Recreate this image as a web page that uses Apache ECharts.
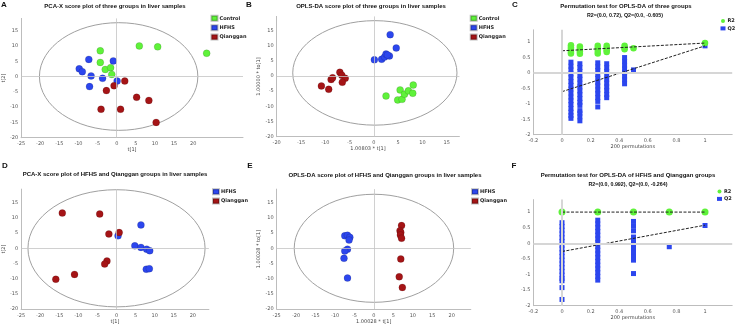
<!DOCTYPE html>
<html>
<head>
<meta charset="utf-8">
<script src="https://cdn.jsdelivr.net/npm/echarts@6/dist/echarts.min.js"></script>
<style>
  html, body { margin: 0; padding: 0; background: #fff; }
  #main { width: 737px; height: 325px; }
</style>
</head>
<body>
<div id="main"></div>
<script>
// score plot values, [t1, t2]
const aControl = [[-4.3, 8.4], [-4.3, 4.6], [-3.0, 2.3], [-1.6, 2.9], [-1.3, 0.7], [5.9, 10.0], [10.7, 9.7], [23.5, 7.6]];
const aHFHS = [[-7.3, 5.6], [-0.9, 5.1], [-9.8, 2.5], [-9.0, 1.6], [-6.7, 0.2], [-3.7, -0.6], [0.1, -1.5], [-7.1, -3.3]];
const aQianggan = [[2.1, -1.5], [-0.7, -3.0], [-2.7, -4.6], [5.2, -6.8], [8.4, -7.8], [-4.1, -10.7], [1.0, -10.7], [10.3, -15.0]];

const bControl = [[2.5, -6.6], [4.9, -7.9], [5.8, -7.7], [5.4, -4.6], [6.3, -6.0], [7.1, -4.9], [8.1, -3.0], [8.0, -5.7]];
const bHFHS = [[0.1, 5.3], [1.6, 5.5], [2.2, 6.2], [2.5, 7.2], [3.2, 6.6], [3.35, 13.6], [4.6, 9.2], [2.8, 6.9]];
const bQianggan = [[-10.8, -3.3], [-9.3, -4.4], [-8.8, -1.2], [-8.5, -0.6], [-7.0, 1.2], [-6.6, 0.2], [-5.9, -0.8], [-6.5, -2.1]];

const dHFHS = [[0.4, 4.1], [6.4, 7.7], [4.8, 0.8], [6.4, 0.3], [7.9, -0.3], [8.7, -0.8], [7.8, -6.9], [8.6, -6.7]];
const dQianggan = [[-14.2, 11.6], [-4.4, 11.3], [-2.0, 4.7], [0.7, 5.2], [-2.5, -4.2], [-3.1, -5.2], [-11.0, -8.6], [-15.9, -10.2]];

const eHFHS = [[-7.5, 4.1], [-6.8, 4.3], [-6.2, 3.6], [-6.4, 2.7], [-6.8, -0.3], [-7.5, -0.9], [-7.7, -3.3], [-6.8, -9.8]];
const eQianggan = [[7.1, 7.5], [6.7, 5.8], [6.9, 5.2], [6.8, 4.4], [7.1, 3.3], [6.9, -3.5], [6.5, -9.4], [7.3, -12.9]];

// hotelling ellipses per score grid: [gridIndex, cx, cy, rx, ry]
const ellipses = [
  [0, 0.5, 0, 20.7, 17.6],
  [1, 0.2, 1.0, 16.9, 17.2],
  [3, 0, 0, 23.2, 19.3],
  [4, 0, 0, 20.5, 17.8]
];

// permutation tests: correlation positions and values per column
const permXC = [0.0625, 0.125, 0.25, 0.3125, 0.4375, 0.5, 1];
const r2C = [
  [0.9, 0.83, 0.76, 0.69, 0.63],
  [0.86, 0.78, 0.7, 0.62],
  [0.88, 0.8, 0.72, 0.63],
  [0.88, 0.81, 0.74, 0.68],
  [0.88, 0.82, 0.77],
  [0.8],
  [0.97]
];
const q2C = [
  [0.35, 0.22, 0.1, -0.03, -0.15, -0.28, -0.4, -0.52, -0.65, -0.78, -0.9, -1.02, -1.15, -1.27, -1.38, -1.47],
  [0.3, 0.18, 0.05, -0.08, -0.2, -0.33, -0.45, -0.58, -0.7, -0.83, -0.95, -1.05, -1.22, -1.3, -1.42, -1.55],
  [0.33, 0.2, 0.08, -0.05, -0.17, -0.3, -0.42, -0.55, -0.67, -0.8, -0.92, -1.1],
  [0.3, 0.17, 0.05, -0.08, -0.2, -0.33, -0.45, -0.57, -0.7, -0.8],
  [0.5, 0.38, 0.25, 0.13, 0.02, -0.1, -0.22, -0.35],
  [0.1],
  [0.88]
];
const r2LineC = [[0, 0.72], [1, 0.97]];
const q2LineC = [[0, -0.605], [1, 0.88]];

const permXF = [0, 0.25, 0.5, 0.75, 1];
const r2F = [[1], [1], [1], [1], [1]];
const q2F = [
  [0.66, 0.54, 0.42, 0.3, 0.18, 0.06, -0.06, -0.18, -0.3, -0.42, -0.54, -0.66, -0.78, -0.9, -1.02, -1.13, -1.2, -1.42, -1.8],
  [0.74, 0.62, 0.5, 0.38, 0.26, 0.14, 0.02, -0.1, -0.22, -0.34, -0.46, -0.58, -0.7, -0.82, -0.94, -1.06, -1.18],
  [0.7, 0.55, 0.4, 0.2, 0.08, -0.05, -0.18, -0.3, -0.43, -0.54, -0.97],
  [-0.11],
  [0.57]
];
const r2LineF = [[0, 1], [1, 1]];
const q2LineF = [[0, -0.264], [1, 0.58]];

const GREEN = '#5ff23a';
const BLUE = '#2c46ee';
const RED = '#a51416';
const ELLIPSE = '#a0a0a0';

const chart = echarts.init(document.getElementById('main'), null, { renderer: 'canvas' });

function columns(xs, cols) {
  const out = [];
  xs.forEach((x, i) => cols[i].forEach((y) => out.push([x, y])));
  return out;
}

function axis(gridIndex, min, max, interval, name, nameGap, isY, showMax) {
  return {
    type: 'value',
    gridIndex: gridIndex,
    min: min,
    max: max,
    interval: interval,
    name: name,
    nameLocation: 'middle',
    nameGap: nameGap,
    nameTextStyle: { fontSize: 5, color: '#444', fontFamily: 'DejaVu Sans' },
    axisLine: { show: true, onZero: false, lineStyle: { color: '#bdbdbd', width: 1 } },
    axisTick: { show: false },
    splitLine: { show: false },
    axisLabel: {
      fontSize: 5,
      color: '#555',
      fontFamily: 'DejaVu Sans',
      margin: isY ? 3 : 4,
      formatter: (v) => {
        const k = Math.round(v / interval);
        if (Math.abs(v - k * interval) > 1e-6 || v > showMax + 1e-6) return '';
        return String(+v.toFixed(1));
      }
    }
  };
}

function dots(idx, name, data, color) {
  return {
    type: 'scatter',
    name: name,
    xAxisIndex: idx,
    yAxisIndex: idx,
    symbolSize: 7,
    z: 3,
    itemStyle: { color: color, borderColor: 'rgba(0,0,0,0.25)', borderWidth: 0.5, opacity: 1 },
    data: data
  };
}

function perm(idx, name, xs, cols, symbol, size, color) {
  return {
    type: 'scatter',
    name: name,
    xAxisIndex: idx,
    yAxisIndex: idx,
    symbol: symbol,
    symbolSize: size,
    z: 3,
    itemStyle: { color: color, opacity: 1 },
    data: columns(xs, cols)
  };
}

function permLine(idx, data) {
  return {
    type: 'line',
    name: 'fit' + idx,
    xAxisIndex: idx,
    yAxisIndex: idx,
    symbol: 'none',
    z: 4,
    lineStyle: { color: '#222', width: 1, type: [3, 1.5] },
    data: data
  };
}

function zeroLines(idx, color, width) {
  return {
    type: 'line',
    name: 'zero' + idx,
    xAxisIndex: idx,
    yAxisIndex: idx,
    data: [],
    z: 1,
    markLine: {
      silent: true,
      symbol: 'none',
      label: { show: false },
      lineStyle: { color: color, width: width, type: 'solid' },
      data: [{ xAxis: 0 }, { yAxis: 0 }]
    }
  };
}

function legendAt(left, top, names, icon, size) {
  return {
    left: left,
    top: top,
    orient: 'vertical',
    data: names,
    icon: icon,
    itemWidth: size,
    itemHeight: size - 1,
    itemGap: 2.4,
    padding: 0,
    selectedMode: false,
    textStyle: { fontSize: 5, fontWeight: 'bold', color: '#222', padding: [0, 0, 0, -3], fontFamily: 'DejaVu Sans' }
  };
}

function label(x, y, text, size, family) {
  return {
    type: 'text',
    x: x,
    y: y,
    silent: true,
    style: {
      text: text,
      fill: '#111',
      font: 'bold ' + size + 'px ' + family,
      align: 'center',
      verticalAlign: 'middle'
    }
  };
}

const TITLE_FONT = '"Liberation Sans"';

const texts = [
  label(4, 5, 'A', 8, TITLE_FONT),
  label(249, 5, 'B', 8, TITLE_FONT),
  label(515, 5, 'C', 8, TITLE_FONT),
  label(5, 166, 'D', 8, TITLE_FONT),
  label(250, 166, 'E', 8, TITLE_FONT),
  label(514, 166, 'F', 8, TITLE_FONT),
  label(115, 6, 'PCA-X score plot of three groups in liver samples', 6, TITLE_FONT),
  label(371, 6, 'OPLS-DA score plot of three groups in liver samples', 6, TITLE_FONT),
  label(626, 6, 'Permutation test for OPLS-DA of three groups', 6, TITLE_FONT),
  label(625, 16, 'R2=(0.0, 0.72), Q2=(0.0, -0.605)', 5.3, TITLE_FONT),
  label(115, 174, 'PCA-X score plot of HFHS and Qianggan groups in liver samples', 6, TITLE_FONT),
  label(385, 175, 'OPLS-DA score plot of HFHS and Qianggan groups in liver samples', 6, TITLE_FONT),
  label(628, 175.7, 'Permutation test for OPLS-DA of HFHS and Qianggan groups', 6, TITLE_FONT),
  label(628, 185, 'R2=(0.0, 0.992), Q2=(0.0, -0.264)', 5.3, TITLE_FONT)
];

const option = {
  animation: false,
  backgroundColor: '#fff',
  grid: [
    { left: 15, top: 18.4, width: 228, height: 119.3 },
    { left: 276.7, top: 16.4, width: 182.7, height: 120.3 },
    { left: 533.4, top: 29.8, width: 198.8, height: 104.9 },
    { left: 16, top: 189.1, width: 192.9, height: 119.9 },
    { left: 276.7, top: 189.1, width: 194.1, height: 119.9 },
    { left: 533.4, top: 199.6, width: 198.8, height: 106.1 }
  ],
  xAxis: [
    axis(0, -25, 33, 5, 't[1]', 9, false, 20),
    axis(1, -20, 17.6, 5, '1.00803 * t[1]', 9, false, 15),
    axis(2, -0.2, 1.19, 0.2, '200 permutations', 8, false, 1),
    axis(3, -25, 24.2, 5, 't[1]', 9, false, 20),
    axis(4, -25, 24.9, 5, '1.00028 * t[1]', 9, false, 20),
    axis(5, -0.2, 1.19, 0.2, '200 permutations', 8, false, 1)
  ],
  yAxis: [
    axis(0, -20, 19, 5, 't[2]', 10, true, 15),
    axis(1, -20, 19.6, 5, '1.00000 * to[1]', 11, true, 15),
    axis(2, -2, 1.4, 0.5, '', 10, true, 1),
    axis(3, -20, 19.5, 5, 't[2]', 10, true, 15),
    axis(4, -20, 19.5, 5, '1.00028 * to[1]', 11, true, 15),
    axis(5, -2, 1.4, 0.5, '', 10, true, 1)
  ],
  legend: [
    legendAt(210.5, 14.8, ['Control', 'HFHS', 'Qianggan'], 'rect', 6),
    legendAt(469.7, 14.8, ['Control', 'HFHS', 'Qianggan'], 'rect', 6),
    legendAt(720.5, 18.5, [{ name: 'R2', icon: 'circle' }, { name: 'Q2', icon: 'rect' }], 'rect', 5),
    legendAt(212, 188.2, ['HFHS', 'Qianggan'], 'rect', 6),
    legendAt(471, 188.2, ['HFHS', 'Qianggan'], 'rect', 6),
    legendAt(717, 189, [{ name: 'R2', icon: 'circle' }, { name: 'Q2', icon: 'rect' }], 'rect', 5)
  ],
  graphic: texts,
  series: [
    zeroLines(0, '#c4c4c4', 0.8),
    dots(0, 'Control', aControl, GREEN),
    dots(0, 'HFHS', aHFHS, BLUE),
    dots(0, 'Qianggan', aQianggan, RED),

    zeroLines(1, '#c4c4c4', 0.8),
    dots(1, 'Control', bControl, GREEN),
    dots(1, 'HFHS', bHFHS, BLUE),
    dots(1, 'Qianggan', bQianggan, RED),

    zeroLines(2, '#d6d6d6', 2),
    perm(2, 'Q2', permXC, q2C, 'rect', 5, BLUE),
    perm(2, 'R2', permXC, r2C, 'circle', 6.5, GREEN),
    permLine(2, r2LineC),
    permLine(2, q2LineC),

    zeroLines(3, '#c4c4c4', 0.8),
    dots(3, 'HFHS', dHFHS, BLUE),
    dots(3, 'Qianggan', dQianggan, RED),

    zeroLines(4, '#c4c4c4', 0.8),
    dots(4, 'HFHS', eHFHS, BLUE),
    dots(4, 'Qianggan', eQianggan, RED),

    zeroLines(5, '#d6d6d6', 2),
    perm(5, 'Q2', permXF, q2F, 'rect', 5, BLUE),
    perm(5, 'R2', permXF, r2F, 'circle', 7, GREEN),
    permLine(5, r2LineF),
    permLine(5, q2LineF)
  ]
};

chart.setOption(option);

// ellipses placed through each grid's own scales
const ellipseEls = ellipses.map(([g, cx, cy, rx, ry]) => {
  const c = chart.convertToPixel({ gridIndex: g }, [cx, cy]);
  const e = chart.convertToPixel({ gridIndex: g }, [cx + rx, cy + ry]);
  return {
    type: 'ellipse',
    silent: true,
    z: 2,
    shape: { cx: c[0], cy: c[1], rx: Math.abs(e[0] - c[0]), ry: Math.abs(e[1] - c[1]) },
    style: { fill: 'rgba(0,0,0,0)', stroke: ELLIPSE, lineWidth: 1 }
  };
});
chart.setOption({ graphic: texts.concat(ellipseEls) });

window.addEventListener('resize', () => chart.resize());
</script>
</body>
</html>
